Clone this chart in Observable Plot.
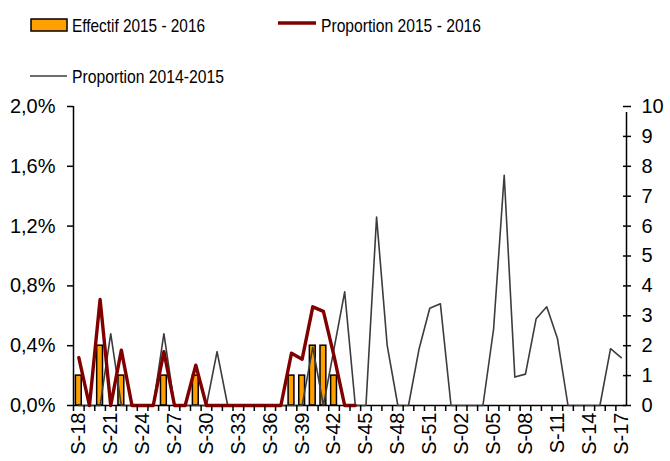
<!DOCTYPE html>
<html>
<head>
<meta charset="utf-8">
<script src="https://cdn.jsdelivr.net/npm/d3@7"></script>
<script src="https://cdn.jsdelivr.net/npm/@observablehq/plot@0.6"></script>
<style>
  html, body { margin: 0; padding: 0; background: #fff; }
  #wrap { position: relative; width: 670px; height: 461px; font-family: "Liberation Sans", Arial, sans-serif; }
  #legend { position: absolute; left: 0; top: 0; }
</style>
</head>
<body>
<div id="wrap"></div>
<script>
const weeks = ["S-18","S-19","S-20","S-21","S-22","S-23","S-24","S-25","S-26","S-27","S-28","S-29","S-30","S-31","S-32","S-33","S-34","S-35","S-36","S-37","S-38","S-39","S-40","S-41","S-42","S-43","S-44","S-45","S-46","S-47","S-48","S-49","S-50","S-51","S-52","S-01","S-02","S-03","S-04","S-05","S-06","S-07","S-08","S-09","S-10","S-11","S-12","S-13","S-14","S-15","S-16","S-17"];

// Effectif 2015 - 2016 (right axis)
const effectif1516 = [1,0,2,0,1,0,0,0,1,0,0,1,0,0,0,0,0,0,0,0,1,1,2,2,1,0,0,
  null,null,null,null,null,null,null,null,null,null,null,null,null,null,null,null,null,null,null,null,null,null,null,null,null];

// Proportion 2015 - 2016 (%, left axis)
const proportion1516 = [0.32,0,0.71,0,0.37,0,0,0,0.36,0,0,0.27,0,0,0,0,0,0,0,0,0.35,0.31,0.66,0.63,0.33,0,0,
  null,null,null,null,null,null,null,null,null,null,null,null,null,null,null,null,null,null,null,null,null,null,null,null,null];

// Proportion 2014-2015 (%, left axis)
const proportion1415 = [0,0,0,0.48,0,0,0,0,0.48,0,0,0,0,0.36,0,0,0,0,0,0,0,0,0.39,0,0.38,0.76,0,0,1.26,0.40,0,0,0.38,0.65,0.68,0,0,0,0,0.51,1.54,0.19,0.21,0.58,0.66,0.45,0,0,0,0,0.38,0.32];

const leftTicks = [0, 0.4, 0.8, 1.2, 1.6, 2.0];
const rightTicks = [0,1,2,3,4,5,6,7,8,9,10];
const labelWeeks = weeks.filter((_, i) => i % 3 === 0);

const data = weeks.map((w, i) => ({week: w, eff: effectif1516[i], p1516: proportion1516[i], p1415: proportion1415[i]}));

const W = 670, H = 461, mL = 73, mR = 44, mT = 106, mB = 56;
const bw = (W - mL - mR) / weeks.length;
const effToPct = 2 / 10; // right axis 0..10 maps onto left axis 0..2%

const chart = Plot.plot({
  width: W, height: H,
  marginLeft: mL, marginRight: mR, marginTop: mT, marginBottom: mB,
  style: {fontFamily: "'Liberation Sans', Arial, sans-serif", fontSize: "20px", color: "#000", background: "#fff", overflow: "visible"},
  x: {type: "band", domain: weeks, padding: 0, axis: null, label: null},
  y: {domain: [0, 2], axis: null, label: null},
  marks: [
    Plot.barY(data.filter(d => d.eff > 0), {x: "week", y: d => d.eff * effToPct, fill: "#FFA000", stroke: "#000", strokeWidth: 1.5, insetLeft: 2.4, insetRight: 2.4}),
    Plot.ruleY([0], {stroke: "#000", strokeWidth: 1.5}),
    Plot.ruleX([weeks[0]], {y1: 0, y2: 2, dx: -bw / 2, stroke: "#000", strokeWidth: 1.5}),
    Plot.ruleX([weeks[weeks.length - 1]], {y1: 0, y2: 2, dx: bw / 2, insetBottom: -6, stroke: "#000", strokeWidth: 1.5}),
    Plot.lineY(data, {x: "week", y: "p1415", stroke: "#3c3c3c", strokeWidth: 1.6}),
    Plot.lineY(data.filter(d => d.p1516 != null), {x: "week", y: "p1516", stroke: "#800000", strokeWidth: 3.4}),
    // boundary ticks of x axis
    Plot.axisX({ticks: weeks, tickSize: 6, tickFormat: () => "", dx: -bw / 2, strokeWidth: 1.5, label: null}),
    // x labels
    Plot.axisX({ticks: labelWeeks, tickSize: 0, tickRotate: -90, tickPadding: 7, fontSize: 20, label: null}),
    // left axis
    Plot.axisY({anchor: "left", ticks: leftTicks, tickSize: 6, tickPadding: 12, strokeWidth: 1.5, fontSize: 20, label: null,
      tickFormat: d => d.toFixed(1).replace(".", ",") + "%"}),
    // right axis (effectif)
    Plot.axisY({anchor: "right", ticks: rightTicks.map(v => v * effToPct), tickSize: 8, dx: -4, tickPadding: 11, strokeWidth: 1.5, fontSize: 20, label: null,
      tickFormat: d => String(Math.round(d / effToPct))})
  ]
});

const wrap = document.getElementById("wrap");
wrap.appendChild(chart);

// legend
const lg = d3.select(wrap).append("svg").attr("id", "legend").attr("width", W).attr("height", 95)
  .style("font-family", "'Liberation Sans', Arial, sans-serif");
const items = [
  {label: "Effectif 2015 - 2016", kind: "bar", x: 30, y: 25, len: 133},
  {label: "Proportion 2015 - 2016", kind: "red", x: 278, y: 25, len: 160},
  {label: "Proportion 2014-2015", kind: "gray", x: 30, y: 76, len: 152}
];
items.forEach(it => {
  if (it.kind === "bar") {
    lg.append("rect").attr("x", it.x + 1).attr("y", it.y - 6).attr("width", 36).attr("height", 12)
      .attr("fill", "#FFA000").attr("stroke", "#000").attr("stroke-width", 1.5);
  } else if (it.kind === "red") {
    lg.append("line").attr("x1", it.x).attr("x2", it.x + 38).attr("y1", it.y - 2).attr("y2", it.y - 2)
      .attr("stroke", "#800000").attr("stroke-width", 3.4);
  } else {
    lg.append("line").attr("x1", it.x).attr("x2", it.x + 37).attr("y1", it.y).attr("y2", it.y)
      .attr("stroke", "#3c3c3c").attr("stroke-width", 1.6);
  }
  lg.append("text").attr("x", it.x + (it.kind === "red" ? 43 : 42)).attr("y", it.y + 6.5)
    .attr("font-size", 18.5).attr("textLength", it.len).attr("lengthAdjust", "spacingAndGlyphs")
    .attr("fill", "#000").text(it.label);
});
</script>
</body>
</html>
